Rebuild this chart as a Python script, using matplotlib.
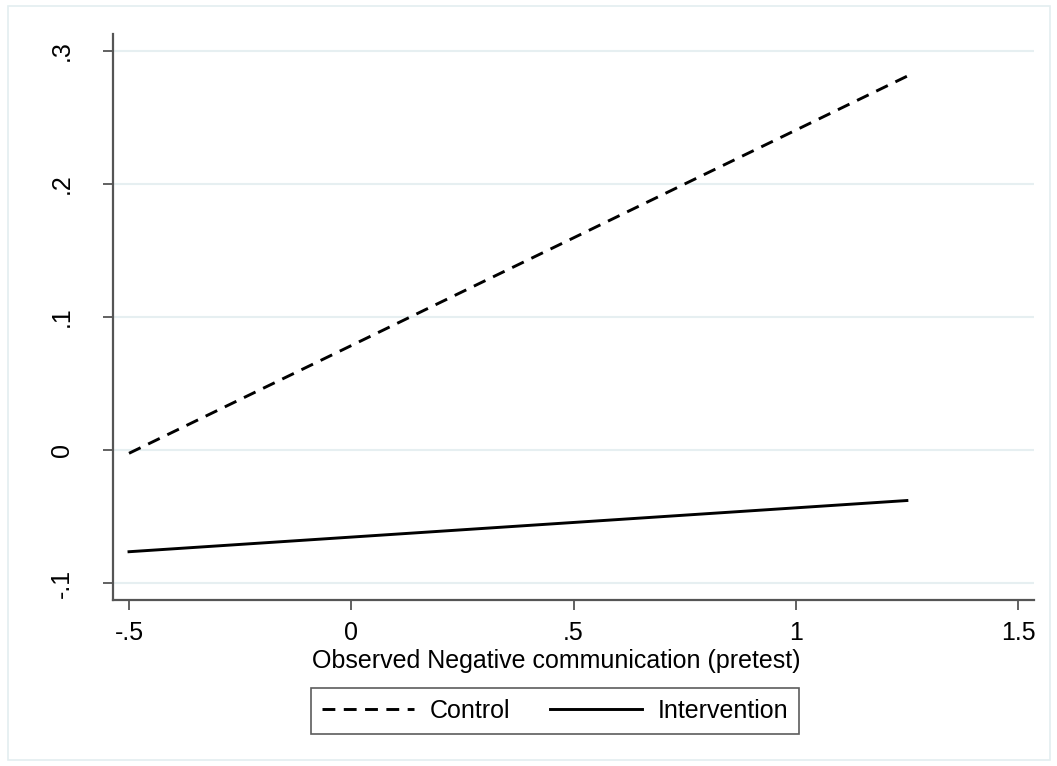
import matplotlib.pyplot as plt
from matplotlib.patches import Rectangle

# predicted values
x_vals = [-0.5, 0, 0.5, 1, 1.25]
control = [-0.0025, 0.0785, 0.1595, 0.2405, 0.281]
intervention = [-0.0765, -0.0655, -0.0545, -0.0435, -0.038]

x_ticks = [-0.5, 0, 0.5, 1, 1.5]
x_labels = ["-.5", "0", ".5", "1", "1.5"]
y_ticks = [-0.1, 0, 0.1, 0.2, 0.3]
y_labels = ["-.1", "0", ".1", ".2", ".3"]

plt.rcParams["font.family"] = ["Liberation Sans", "DejaVu Sans"]

fig = plt.figure(figsize=(10.57, 7.66), dpi=100)
W, H = 1057, 766

# light outer frame like Stata's graph region
fig.patches.append(Rectangle((8 / W, 1 - 760 / H), 1042 / W, 754 / H,
                             transform=fig.transFigure, fill=False,
                             edgecolor="#e3eef0", linewidth=1.2))

ax = fig.add_axes([113 / W, 1 - 600 / H, (1034 - 113) / W, (600 - 34) / H])

ax.plot(x_vals, control, color="black", linewidth=2.1, dashes=(4.4, 2.9),
        label="Control")
ax.plot(x_vals, intervention, color="black", linewidth=2.1,
        label="Intervention")

ax.set_xlim(-0.536, 1.536)
ax.set_ylim(-0.1128, 0.3128)

ax.set_xticks(x_ticks)
ax.set_xticklabels(x_labels)
ax.set_yticks(y_ticks)
ax.set_yticklabels(y_labels, rotation=90, va="center")

ax.grid(axis="y", color="#e6eff1", linewidth=1.5)
ax.set_axisbelow(True)

for s in ["top", "right"]:
    ax.spines[s].set_visible(False)
for s in ["left", "bottom"]:
    ax.spines[s].set_color("#555555")
    ax.spines[s].set_linewidth(1.6)

ax.tick_params(axis="both", length=7, width=1.3, color="#555555",
               labelsize=18)
ax.tick_params(axis="x", pad=8)
ax.tick_params(axis="y", pad=21)

ax.set_xlabel("Observed Negative communication (pretest)", fontsize=18,
              labelpad=2)
ax.xaxis.set_label_coords((556 - 113) / 921, -0.086)

leg = fig.legend(loc="center", bbox_to_anchor=(555 / W, 1 - 711 / H),
                 ncol=2, fontsize=18, frameon=True, fancybox=False,
                 edgecolor="#333333", handlelength=3.7, columnspacing=1.6,
                 handletextpad=0.6, borderpad=0.45, borderaxespad=0)
leg.get_frame().set_linewidth(1.2)

fig.savefig("out.png", dpi=100)
